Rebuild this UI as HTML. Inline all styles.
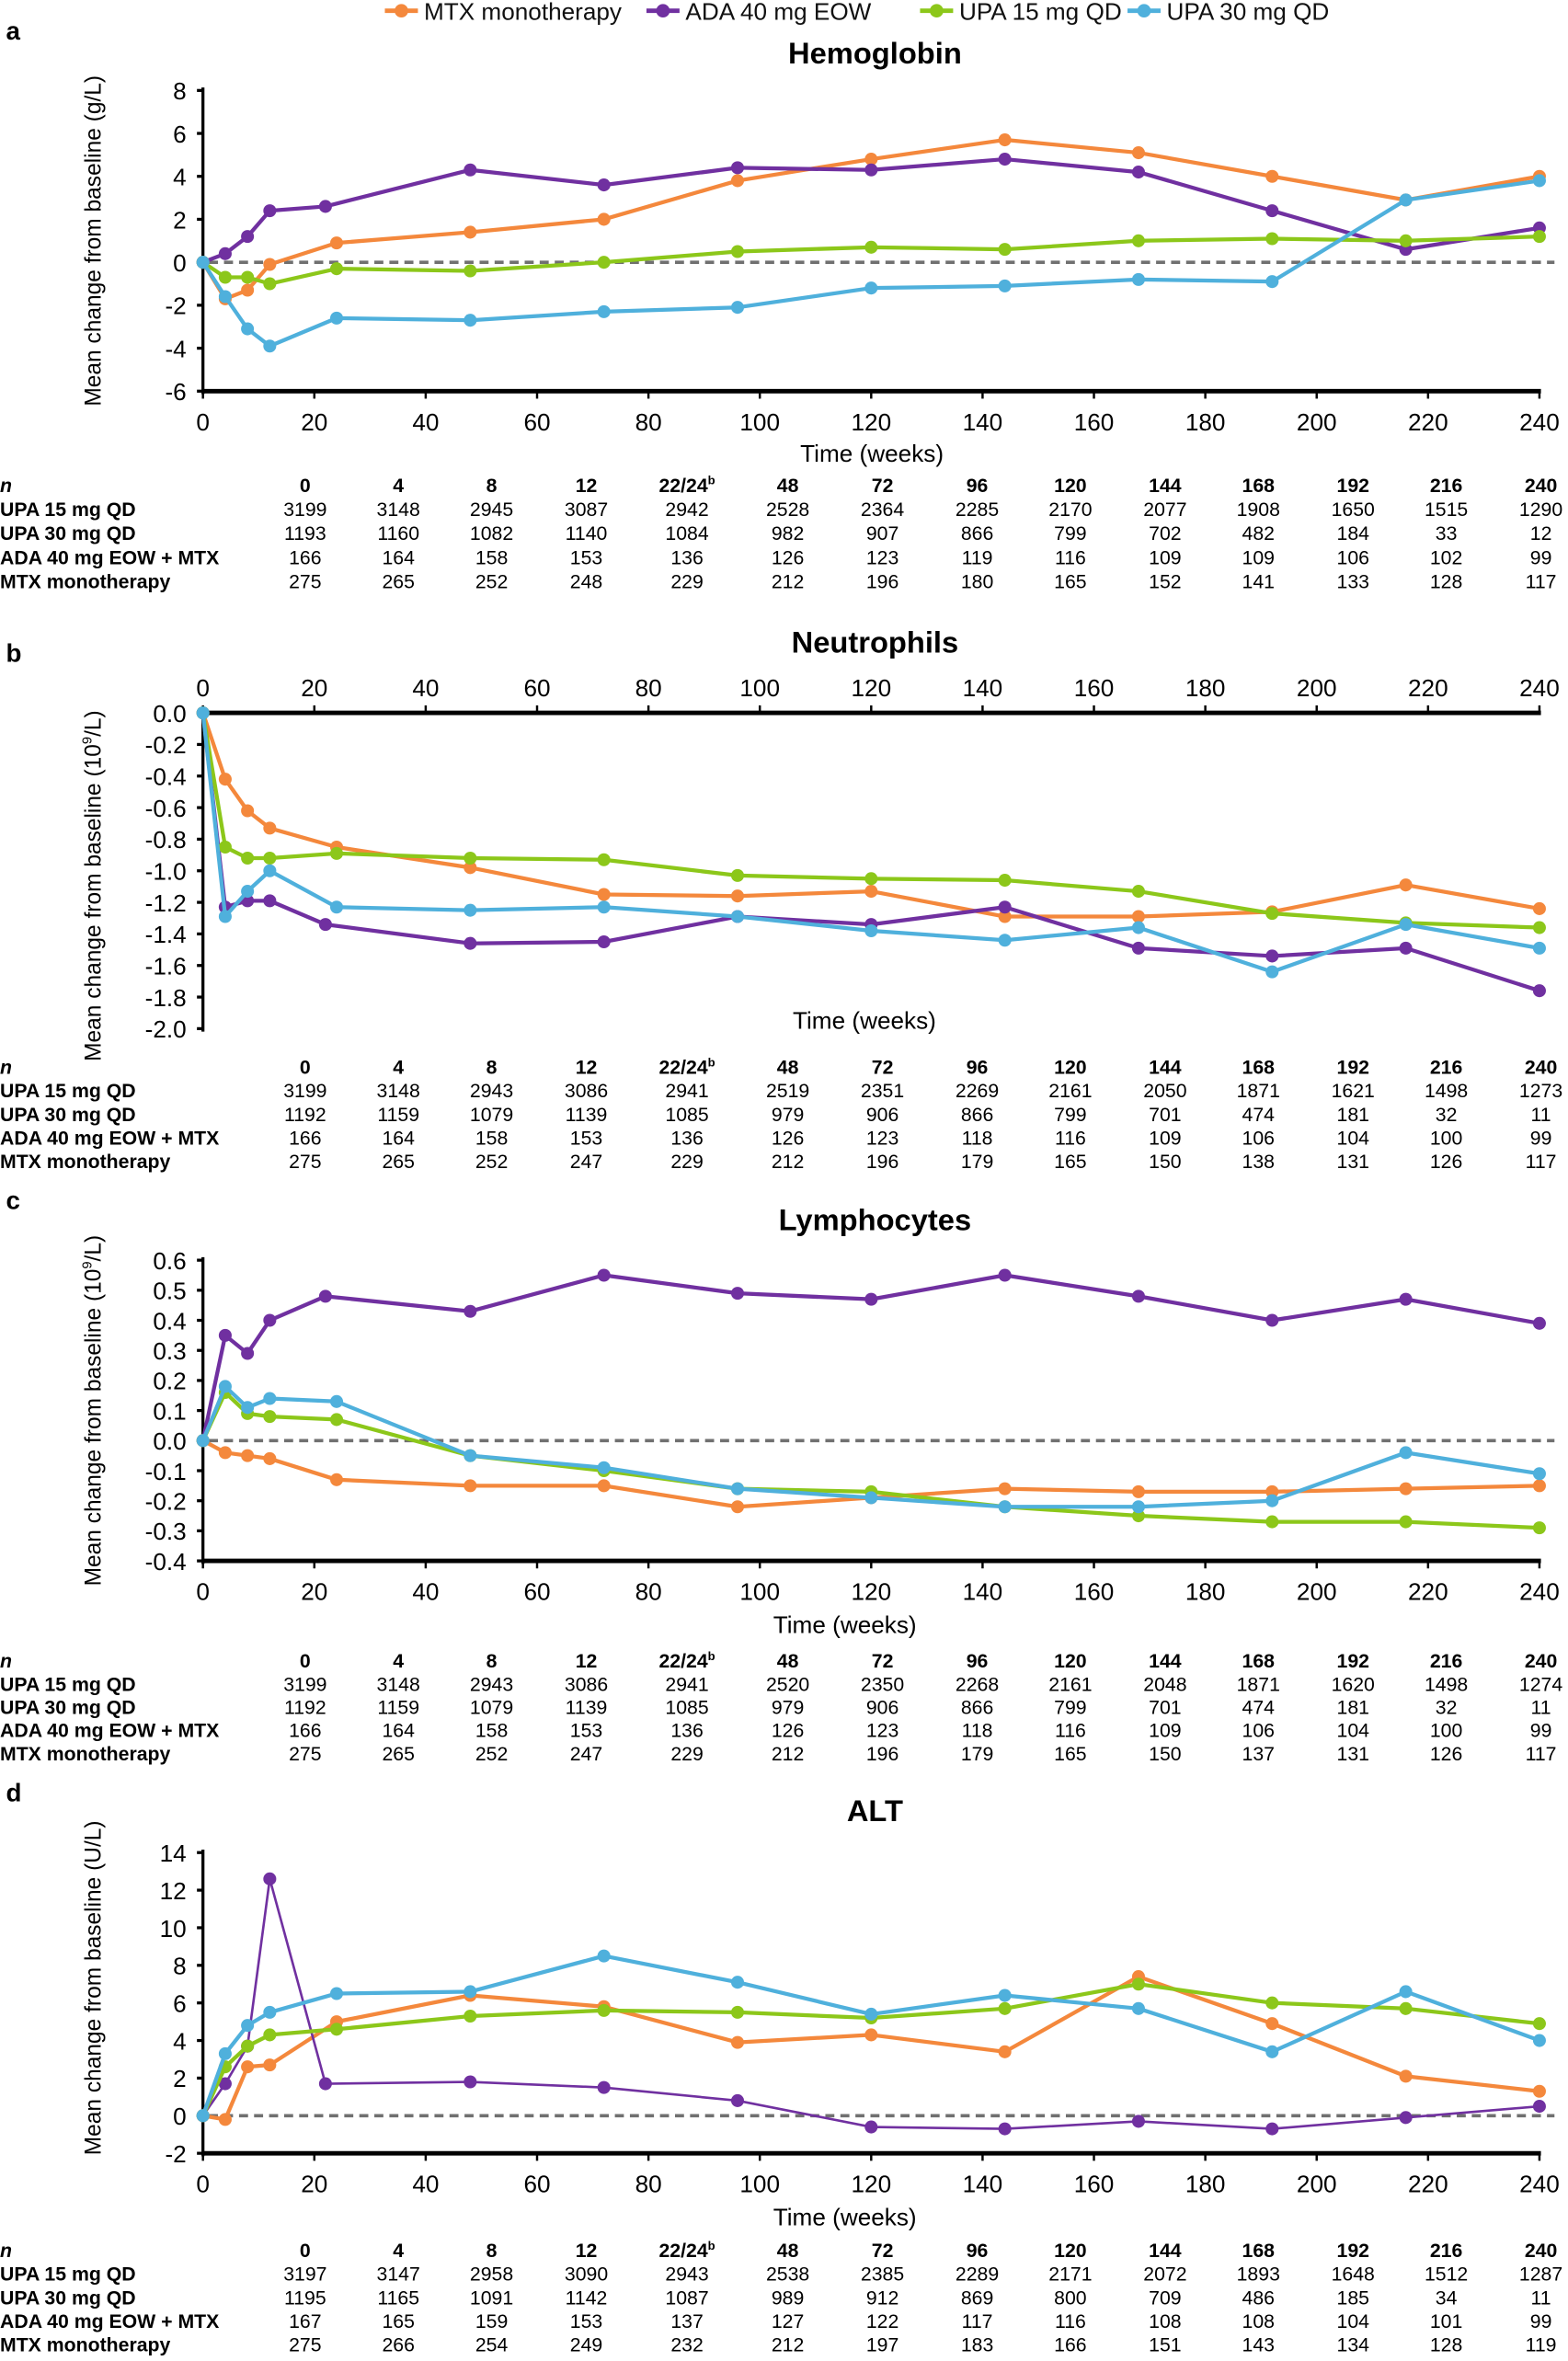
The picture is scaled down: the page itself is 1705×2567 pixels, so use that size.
<!DOCTYPE html>
<html><head><meta charset="utf-8">
<style>
html,body{margin:0;padding:0;background:#fff;}
svg{display:block;font-family:"Liberation Sans",Arial,sans-serif;}
</style></head>
<body>
<svg id="fig" width="1705" height="2567" viewBox="0 0 1043 1570" xmlns="http://www.w3.org/2000/svg">
<g id="legend"></g>
</svg>
<script>
const weeks = [0,4,8,12,24,48,72,96,120,144,168,192,216,240];
const adaWeeks = [0,4,8,12,22,48,72,96,120,144,168,192,216,240];
const seriesNames = ["MTX monotherapy","ADA 40 mg EOW","UPA 15 mg QD","UPA 30 mg QD"];
const seriesColors = ["#f4883c","#7030a0","#8cc71a","#4fb0dc"];
const xTicks = [0,20,40,60,80,100,120,140,160,180,200,220,240];

const hbMTX = [0,-1.7,-1.3,-0.1,0.9,1.4,2.0,3.8,4.8,5.7,5.1,4.0,2.9,4.0];
const hbADA = [0,0.4,1.2,2.4,2.6,4.3,3.6,4.4,4.3,4.8,4.2,2.4,0.6,1.6];
const hbU15 = [0,-0.7,-0.7,-1.0,-0.3,-0.4,0,0.5,0.7,0.6,1.0,1.1,1.0,1.2];
const hbU30 = [0,-1.6,-3.1,-3.9,-2.6,-2.7,-2.3,-2.1,-1.2,-1.1,-0.8,-0.9,2.9,3.8];
const hbTicks = [8,6,4,2,0,-2,-4,-6];

const neMTX = [0,-0.42,-0.62,-0.73,-0.85,-0.98,-1.15,-1.16,-1.13,-1.29,-1.29,-1.26,-1.09,-1.24];
const neADA = [0,-1.23,-1.19,-1.19,-1.34,-1.46,-1.45,-1.29,-1.34,-1.23,-1.49,-1.54,-1.49,-1.76];
const neU15 = [0,-0.85,-0.92,-0.92,-0.89,-0.92,-0.93,-1.03,-1.05,-1.06,-1.13,-1.27,-1.33,-1.36];
const neU30 = [0,-1.29,-1.13,-1.00,-1.23,-1.25,-1.23,-1.29,-1.38,-1.44,-1.36,-1.64,-1.34,-1.49];
const neTicks = ["0.0","-0.2","-0.4","-0.6","-0.8","-1.0","-1.2","-1.4","-1.6","-1.8","-2.0"];

const lyMTX = [0,-0.04,-0.05,-0.06,-0.13,-0.15,-0.15,-0.22,-0.19,-0.16,-0.17,-0.17,-0.16,-0.15];
const lyADA = [0,0.35,0.29,0.40,0.48,0.43,0.55,0.49,0.47,0.55,0.48,0.40,0.47,0.39];
const lyU15 = [0,0.16,0.09,0.08,0.07,-0.05,-0.10,-0.16,-0.17,-0.22,-0.25,-0.27,-0.27,-0.29];
const lyU30 = [0,0.18,0.11,0.14,0.13,-0.05,-0.09,-0.16,-0.19,-0.22,-0.22,-0.20,-0.04,-0.11];
const lyTicks = ["0.6","0.5","0.4","0.3","0.2","0.1","0.0","-0.1","-0.2","-0.3","-0.4"];

const altMTX = [0,-0.2,2.6,2.7,5.0,6.4,5.8,3.9,4.3,3.4,7.4,4.9,2.1,1.3];
const altADA = [0,1.7,3.7,12.6,1.7,1.8,1.5,0.8,-0.6,-0.7,-0.3,-0.7,-0.1,0.5];
const altU15 = [0,2.6,3.7,4.3,4.6,5.3,5.6,5.5,5.2,5.7,7.0,6.0,5.7,4.9];
const altU30 = [0,3.3,4.8,5.5,6.5,6.6,8.5,7.1,5.4,6.4,5.7,3.4,6.6,4.0];
const altTicks = [14,12,10,8,6,4,2,0,-2];

const nHeaders = ["0","4","8","12","22/24","48","72","96","120","144","168","192","216","240"];
const rowLabels = ["UPA 15 mg QD","UPA 30 mg QD","ADA 40 mg EOW + MTX","MTX monotherapy"];
const nA = [[3199,3148,2945,3087,2942,2528,2364,2285,2170,2077,1908,1650,1515,1290],[1193,1160,1082,1140,1084,982,907,866,799,702,482,184,33,12],[166,164,158,153,136,126,123,119,116,109,109,106,102,99],[275,265,252,248,229,212,196,180,165,152,141,133,128,117]];
const nB = [[3199,3148,2943,3086,2941,2519,2351,2269,2161,2050,1871,1621,1498,1273],[1192,1159,1079,1139,1085,979,906,866,799,701,474,181,32,11],[166,164,158,153,136,126,123,118,116,109,106,104,100,99],[275,265,252,247,229,212,196,179,165,150,138,131,126,117]];
const nC = [[3199,3148,2943,3086,2941,2520,2350,2268,2161,2048,1871,1620,1498,1274],[1192,1159,1079,1139,1085,979,906,866,799,701,474,181,32,11],[166,164,158,153,136,126,123,118,116,109,106,104,100,99],[275,265,252,247,229,212,196,179,165,150,137,131,126,117]];
const nD = [[3197,3147,2958,3090,2943,2538,2385,2289,2171,2072,1893,1648,1512,1287],[1195,1165,1091,1142,1087,989,912,869,800,709,486,185,34,11],[167,165,159,153,137,127,122,117,116,108,108,104,101,99],[275,266,254,249,232,212,197,183,166,151,143,134,128,119]];
const colX = [203,265,327,390,457,524,587,650,712,775,837,900,962,1025];

const NS="http://www.w3.org/2000/svg";
const svg=document.getElementById('fig');
function el(tag,attrs,parent,text){const e=document.createElementNS(NS,tag);for(const k in attrs)e.setAttribute(k,attrs[k]);if(text!==undefined)e.textContent=text;(parent||svg).appendChild(e);return e;}
const X0=135,X1=1024;
function xs(w){return X0+w*(X1-X0)/240;}

const leg=document.getElementById('legend');
const legX=[256,430,612,750];
seriesNames.forEach((n,i)=>{
  const g=el('g',{},leg);
  
  
  el('line',{x1:legX[i],y1:7,x2:legX[i]+22,y2:7,stroke:seriesColors[i],'stroke-width':3},g);
  el('circle',{cx:legX[i]+11,cy:7,r:4.5,fill:seriesColors[i]},g);
  el('text',{x:legX[i]+26,y:13,'font-size':16,fill:'#111'},g,n);
});

function panel(o){
  const g=el('g',{});
  
  
  const ys=v=>o.yTop+(o.vTop-v)*(o.yBot-o.yTop)/(o.vTop-o.vBot);
  el('text',{x:4,y:o.letterY,'font-size':17,'font-weight':'bold'},g,o.letter);
  const t=el('text',{x:582,y:o.titleY,'font-size':20,'font-weight':'bold','text-anchor':'middle'},g,o.title);
  
  
  el('line',{x1:X0,y1:o.yTop-2,x2:X0,y2:o.yBot+2,stroke:'#000','stroke-width':2},g);
  o.ticks.forEach(tk=>{const v=parseFloat(tk);const y=ys(v);
    el('line',{x1:X0-4,y1:y,x2:X0,y2:y,stroke:'#000','stroke-width':2},g);
    const tt=el('text',{x:X0-11,y:y+6,'font-size':16,'text-anchor':'end'},g,String(tk));
    
    
  });
  const yt=el('text',{transform:`translate(67,${(o.yTop+o.yBot)/2+o.ytOff}) rotate(-90)`,'font-size':15,'text-anchor':'middle'},g);
  
  
  yt.innerHTML=o.ytitle;
  const ax=o.xAxisY;
  el('line',{x1:X0,y1:ax,x2:X1+1,y2:ax,stroke:'#000','stroke-width':3},g);
  xTicks.forEach(w=>{const x=xs(w);
    el('line',{x1:x,y1:ax,x2:x,y2:o.top?ax-5:ax+5,stroke:'#000','stroke-width':1.5},g);
    const tt=el('text',{x:x,y:o.top?ax-11:ax+26,'font-size':16,'text-anchor':'middle'},g,String(w));
    
    
  });
  const xt=el('text',{x:o.xtX,y:o.xtY,'font-size':16,'text-anchor':'middle'},g,'Time (weeks)');
  
  
  if(o.dash){const y=ys(0);el('line',{x1:X0+4,y1:y,x2:X1+10,y2:y,stroke:'#707070','stroke-width':2.2,'stroke-dasharray':'6,4'},g);}
  o.series.forEach((vals,i)=>{
    const wk=i===1?adaWeeks:weeks;
    const sg=el('g',{},g);
    
    
    const pts=vals.map((v,j)=>xs(wk[j])+','+ys(v)).join(' ');
    el('polyline',{points:pts,fill:'none',stroke:seriesColors[i],'stroke-width':(i===1&&o.thinAda)?1.6:2.6,'stroke-linejoin':'round'},sg);
    vals.forEach((v,j)=>{
      const c=el('circle',{cx:xs(wk[j]),cy:ys(v),r:4.3,fill:seriesColors[i]},sg);
      
      
    });
  });
  const tg=el('g',{},g);
  
  
  const ty=o.tableY;
  el('text',{x:0,y:ty+4,'font-size':13,'font-weight':'bold','font-style':'italic'},tg,'n');
  nHeaders.forEach((h,j)=>{
    const t=el('text',{x:colX[j],y:ty+4,'font-size':13,'font-weight':'bold','text-anchor':'middle'},tg);
    if(h==='22/24'){t.innerHTML='22/24<tspan font-size="8" dy="-5">b</tspan>';}else t.textContent=h;
  });
  rowLabels.forEach((r,i)=>{
    const y=ty+4+o.rowH*(i+1);
    el('text',{x:0,y:y,'font-size':13,'font-weight':'bold'},tg,r);
    o.n[i].forEach((v,j)=>el('text',{x:colX[j],y:y,'font-size':13,'text-anchor':'middle'},tg,String(v)));
  });
}

panel({letter:'a',letterY:26,title:'Hemoglobin',titleY:42,yTop:60,yBot:260,vTop:8,vBot:-6,ticks:hbTicks,
  ytitle:'Mean change from baseline (g/L)',ytOff:0,xAxisY:260,top:false,xtX:580,xtY:307,dash:true,
  series:[hbMTX,hbADA,hbU15,hbU30],tableY:323,rowH:16,n:nA});
panel({letter:'b',letterY:440,title:'Neutrophils',titleY:434,yTop:474,yBot:684,vTop:0,vBot:-2,ticks:neTicks,
  ytitle:'Mean change from baseline (10<tspan font-size="9" dy="-6">9</tspan><tspan dy="6">/L)</tspan>',ytOff:10,xAxisY:474,top:true,xtX:575,xtY:684,dash:false,
  series:[neMTX,neADA,neU15,neU30],tableY:710,rowH:15.7,n:nB});
panel({letter:'c',letterY:804,title:'Lymphocytes',titleY:818,yTop:838,yBot:1038,vTop:0.6,vBot:-0.4,ticks:lyTicks,
  ytitle:'Mean change from baseline (10<tspan font-size="9" dy="-6">9</tspan><tspan dy="6">/L)</tspan>',ytOff:0,xAxisY:1038,top:false,xtX:562,xtY:1086,dash:true,
  series:[lyMTX,lyADA,lyU15,lyU30],tableY:1105,rowH:15.4,n:nC});
panel({letter:'d',letterY:1198,title:'ALT',titleY:1211,yTop:1232,yBot:1432,vTop:14,vBot:-2,ticks:altTicks,
  ytitle:'Mean change from baseline (U/L)',ytOff:-10,xAxisY:1432,top:false,xtX:562,xtY:1480,dash:true,thinAda:true,
  series:[altMTX,altADA,altU15,altU30],tableY:1497,rowH:15.7,n:nD});
</script>
</body></html>
